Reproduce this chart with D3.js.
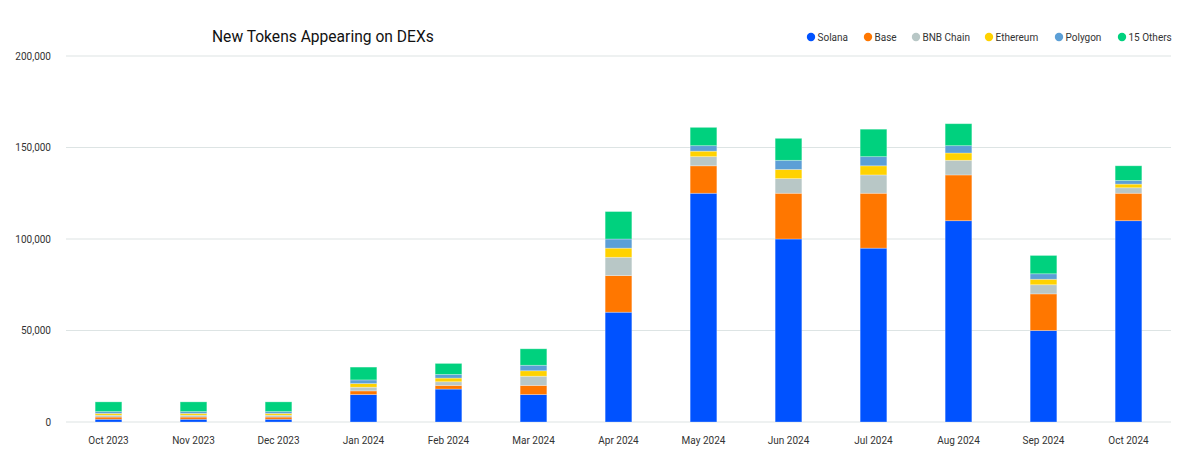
<!DOCTYPE html>
<html>
<head>
<meta charset="utf-8">
<script src="https://cdn.jsdelivr.net/npm/d3@7"></script>
<style>
  html, body { margin: 0; padding: 0; background: #fff; }
  svg { display: block; }
  text { font-family: Roboto, "Noto Sans", sans-serif; }
</style>
</head>
<body>
<svg id="chart" width="1200" height="476"></svg>
<script>
const months = ["Oct 2023","Nov 2023","Dec 2023","Jan 2024","Feb 2024","Mar 2024","Apr 2024","May 2024","Jun 2024","Jul 2024","Aug 2024","Sep 2024","Oct 2024"];
const seriesNames = ["Solana","Base","BNB Chain","Ethereum","Polygon","15 Others"];
const solana   = [1.5, 1.5, 1.5, 15, 18, 15, 60, 125, 100, 95, 110, 50, 110];
const base     = [1.2, 1.2, 1.2, 2, 2, 5, 20, 15, 25, 30, 25, 20, 15];
const bnb      = [1, 1, 1, 2, 2, 5, 10, 5, 8, 10, 8, 5, 3];
const ethereum = [1, 1, 1, 2, 2, 3, 5, 3, 5, 5, 4, 3, 2];
const polygon  = [1, 1, 1, 2, 2, 3, 5, 3, 5, 5, 4, 3, 2];
const others   = [5.3, 5.3, 5.3, 7, 6, 9, 15, 10, 12, 15, 12, 10, 8];
const colors = ["#0052FF","#FF7700","#B8C7C6","#FFD200","#5C9FD6","#00D17E"];
const yTicks = [0, 50000, 100000, 150000, 200000];

const values = [solana, base, bnb, ethereum, polygon, others];
const table = months.map((m, i) => {
  const row = { month: m };
  seriesNames.forEach((s, k) => { row[s] = values[k][i] * 1000; });
  return row;
});

const svg = d3.select("#chart");
const margin = { left: 66, right: 29, top: 56, bottom: 54 };
const W = 1200, H = 476;
const FONT = "Roboto, sans-serif";

const x = d3.scaleBand().domain(months).range([margin.left, W - margin.right]).paddingInner(0.686).paddingOuter(0.343);
const y = d3.scaleLinear().domain([0, 200000]).range([H - margin.bottom, margin.top]);

// grid
svg.append("g").selectAll("line").data(yTicks).join("line")
  .attr("x1", margin.left).attr("x2", W - margin.right)
  .attr("y1", d => y(d)).attr("y2", d => y(d))
  .attr("stroke", "#dde4e4").attr("stroke-width", 1.2);

// y axis labels
const yAxis = d3.axisLeft(y).tickValues(yTicks).tickSize(0).tickPadding(0)
  .tickFormat(d => d3.format(",")(d));
svg.append("g").attr("transform", `translate(51,0)`).call(yAxis)
  .call(g => g.select(".domain").remove())
  .call(g => g.selectAll("text").attr("fill", "#333").attr("font-size", 10).attr("font-family", FONT));

// x axis labels
const xAxis = d3.axisBottom(x).tickSize(0).tickPadding(0);
svg.append("g").attr("transform", `translate(0,${H - margin.bottom + 15})`).call(xAxis)
  .call(g => g.select(".domain").remove())
  .call(g => g.selectAll("text").attr("fill", "#333").attr("font-size", 10).attr("font-family", FONT));

// stacks
const stack = d3.stack().keys(seriesNames)(table);
svg.append("g").selectAll("g").data(stack).join("g")
  .attr("fill", (d, i) => colors[i])
  .selectAll("rect").data(d => d).join("rect")
  .attr("x", d => x(d.data.month))
  .attr("width", x.bandwidth())
  .attr("y", d => y(d[1]))
  .attr("height", d => y(d[0]) - y(d[1]))
  .attr("stroke", "rgba(255,255,255,0.35)").attr("stroke-width", 0.8);

// title
svg.append("text").attr("x", 212).attr("y", 42)
  .attr("font-size", 15.6).attr("fill", "#111").attr("font-weight", 400)
  .text("New Tokens Appearing on DEXs");

// legend
const legendX = [811, 868, 916, 989, 1059, 1122];
const lg = svg.append("g").selectAll("g").data(seriesNames).join("g")
  .attr("transform", (d, i) => `translate(${legendX[i]},37)`);
lg.append("circle").attr("r", 4.2).attr("fill", (d, i) => colors[i]);
lg.append("text").attr("x", 6.5).attr("dy", "0.35em").attr("font-size", 10).attr("fill", "#333").text(d => d);
</script>
</body>
</html>
